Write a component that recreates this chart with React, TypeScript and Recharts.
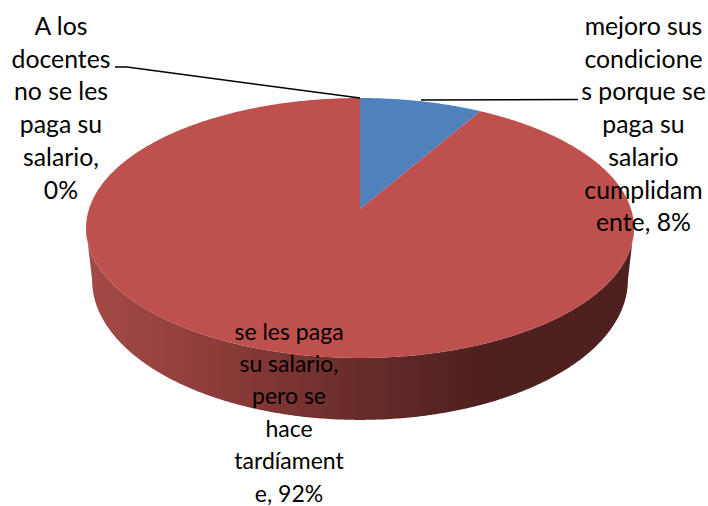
import React from "react";
import { PieChart, Pie, Cell } from "recharts";

const categories = [
  "A los docentes no se les paga su salario",
  "mejoro sus condiciones porque se paga su salario cumplidamente",
  "se les paga su salario, pero se hace tardíamente",
];
const values = [0, 8.33, 91.67];
const colors = ["#4F81BD", "#4F81BD", "#BE504D"];
const labelLines = [
  ["A los", "docentes", "no se les", "paga su", "salario,", "0%"],
  ["mejoro sus", "condicione", "s porque se", "paga su", "salario", "cumplidam", "ente, 8%"],
  ["se les paga", "su salario,", "pero se", "hace", "tardíament", "e, 92%"],
];
const data = categories.map((name, i) => ({ name, value: values[i] }));

const W = 708;
const H = 506;
const CX = 360;
const CY = 209;
const R = 271;
const SQUASH = 127.2 / 271;
const PERSP = 0.146;
const DEPTH_DY = 50.5;
const DEPTH_SX = 0.978;
const DEPTH_SY = 1.077;

const labelLayout = [
  { x: 61, y: 35, size: 24.8, lineH: 32.7, leader: "M115 67 L127 67 L360 98" },
  { x: 643.5, y: 35, size: 24.8, lineH: 32.7, leader: "M421 100 L578 99.5" },
  { x: 289, y: 339.5, size: 23, lineH: 32.4, leader: "" },
];

function project(cx: number, cy: number, r: number, deg: number, sx = 1, sy = 1, dy = 0) {
  const rad = (deg * Math.PI) / 180;
  const u = Math.cos(rad);
  const v = Math.sin(rad);
  const w = 1 + PERSP * v;
  return {
    x: cx + (sx * r * u) / w,
    y: cy + dy - (sy * r * SQUASH * v) / w,
  };
}

function arcAngles(start: number, end: number) {
  const out: number[] = [];
  const n = Math.max(2, Math.ceil(Math.abs(end - start) * 2));
  for (let i = 0; i <= n; i++) out.push(start + ((end - start) * i) / n);
  return out;
}

function Sector3D(props: any) {
  const { cx, cy, outerRadius, startAngle, endAngle, fill, index } = props;
  if (Math.abs(endAngle - startAngle) < 0.001) return null;
  const angles = arcAngles(startAngle, endAngle);
  const top = angles.map((a) => project(cx, cy, outerRadius, a));
  const topPath =
    `M${cx} ${cy} ` + top.map((p) => `L${p.x.toFixed(2)} ${p.y.toFixed(2)}`).join(" ") + " Z";
  const front = angles.filter((a) => Math.sin((a * Math.PI) / 180) < -0.14);
  let wall = "";
  if (front.length > 1) {
    const t = front.map((a) => project(cx, cy, outerRadius, a));
    const b = front
      .map((a) => project(cx, cy, outerRadius, a, DEPTH_SX, DEPTH_SY, DEPTH_DY))
      .reverse();
    wall =
      t.concat(b).map((p, i) => `${i ? "L" : "M"}${p.x.toFixed(2)} ${p.y.toFixed(2)}`).join(" ") + " Z";
  }
  const gid = `wall-${index}`;
  return (
    <g>
      {wall && (
        <>
          <defs>
            <linearGradient id={gid} gradientUnits="userSpaceOnUse" x1={86} x2={634} y1={0} y2={0}>
              <stop offset="0" stopColor="#A54B48" />
              <stop offset="0.3" stopColor="#853836" />
              <stop offset="0.5" stopColor="#672C2A" />
              <stop offset="0.72" stopColor="#4E201E" />
              <stop offset="1" stopColor="#4E201E" />
            </linearGradient>
          </defs>
          <path d={wall} fill={`url(#${gid})`} stroke="none" />
        </>
      )}
      <path d={topPath} fill={fill} stroke="none" />
    </g>
  );
}

function renderLabel(props: any) {
  const i = props.index as number;
  const layout = labelLayout[i];
  return (
    <g key={i}>
      {layout.leader && <path d={layout.leader} fill="none" stroke="#000" strokeWidth={1.5} />}
      <text
        x={layout.x}
        y={layout.y}
        textAnchor="middle"
        fontFamily="Lato, sans-serif"
        fontSize={layout.size}
        fill="#000"
      >
        {labelLines[i].map((line, j) => (
          <tspan key={j} x={layout.x} y={layout.y + j * layout.lineH}>
            {line}
          </tspan>
        ))}
      </text>
    </g>
  );
}

export default function App() {
  return (
    <div style={{ position: "absolute", left: 0, top: 0, width: W, height: H, background: "#fff" }}>
      <PieChart width={W} height={H} margin={{ top: 0, right: 0, bottom: 0, left: 0 }}>
        <Pie
          data={data}
          dataKey="value"
          nameKey="name"
          cx={CX}
          cy={CY}
          innerRadius={0}
          outerRadius={R}
          startAngle={90}
          endAngle={-270}
          stroke="none"
          isAnimationActive={false}
          shape={Sector3D}
          label={renderLabel}
          labelLine={false}
        >
          {data.map((d, i) => (
            <Cell key={d.name} fill={colors[i]} />
          ))}
        </Pie>
      </PieChart>
    </div>
  );
}
